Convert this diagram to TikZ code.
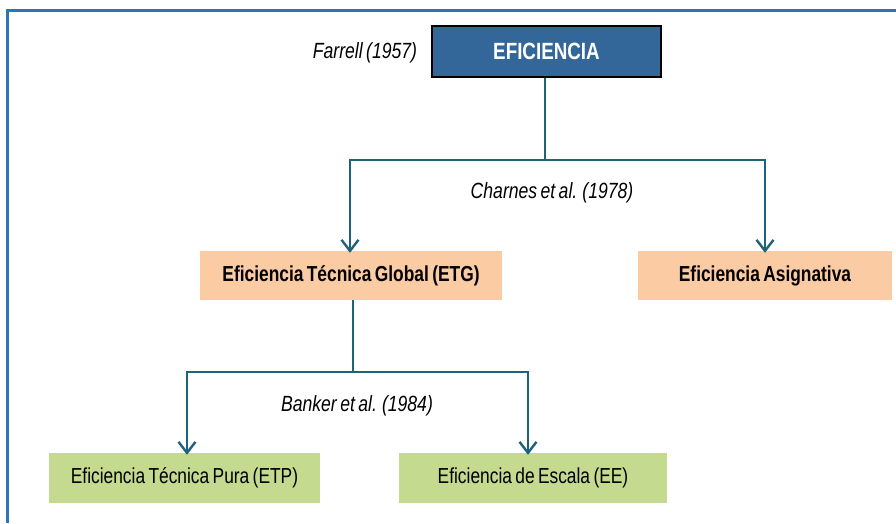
\documentclass[tikz,border=0pt]{standalone}
\usepackage{fontspec}
\setmainfont{Liberation Sans}[FakeStretch=0.8, WordSpace=0.7]
\usetikzlibrary{arrows.meta}
\definecolor{topblue}{HTML}{336699}
\definecolor{peach}{HTML}{FBCBA4}
\definecolor{leaf}{HTML}{C3DA8F}
\definecolor{conncol}{HTML}{1E6478}
\definecolor{framecol}{HTML}{2E75B6}
\tikzset{
  topbox/.style={draw=black, line width=1.5pt, fill=topblue, text=white, font=\fontsize{23.5}{26}\selectfont\bfseries, minimum width=229pt, minimum height=51pt, inner sep=0pt},
  midbox/.style={fill=peach, font=\fontsize{21.7}{24}\selectfont\bfseries, minimum height=49pt, inner sep=0pt},
  leafbox/.style={fill=leaf, font=\fontsize{21.7}{24}\selectfont, minimum height=50pt, inner sep=0pt},
  author/.style={font=\fontsize{22}{24}\selectfont\itshape, inner sep=0pt},
  conn/.style={draw=conncol, line width=2.4pt},
  arr/.style={conn, -{Straight Barb[length=11pt,width=17pt,line width=2.4pt]}}
}
\begin{document}
\begin{tikzpicture}[x=1pt,y=-1pt]
\useasboundingbox (0,0) rectangle (896,523);
\fill[white] (0,0) rectangle (896,523);
\draw[framecol, line width=3pt] (7,523) -- (7,10) -- (896,10);

\node[topbox] (ef) at (546.5,51.5) {EFICIENCIA};
\node[author] (farrell) at (365,53) {Farrell (1957)};

\node[midbox, minimum width=302pt] (etg) at (351,275.5) {Eficiencia Técnica Global (ETG)};
\node[midbox, minimum width=254pt] (asig) at (765,275.5) {Eficiencia Asignativa};

\node[leafbox, minimum width=271pt] (etp) at (184.5,478) {Eficiencia Técnica Pura (ETP)};
\node[leafbox, minimum width=268pt] (ee) at (533,478) {Eficiencia de Escala (EE)};

\coordinate (j1) at (545,160);
\coordinate (j2) at (353,372);

\draw[conn] (ef.south -| j1) -- (j1);
\draw[arr] (j1) -| ([xshift=-1pt,yshift=-2pt]etg.north);
\draw[arr] (j1) -| ([yshift=-2pt]asig.north);
\node[author] (charnes) at (552,193) {Charnes et al. (1978)};

\draw[conn] (etg.south -| j2) -- (j2);
\draw[arr] (j2) -| ([xshift=2.5pt,yshift=-2pt]etp.north);
\draw[arr] (j2) -| ([xshift=-5pt,yshift=-2pt]ee.north);
\node[author] (banker) at (357,406) {Banker et al. (1984)};
\end{tikzpicture}
\end{document}
